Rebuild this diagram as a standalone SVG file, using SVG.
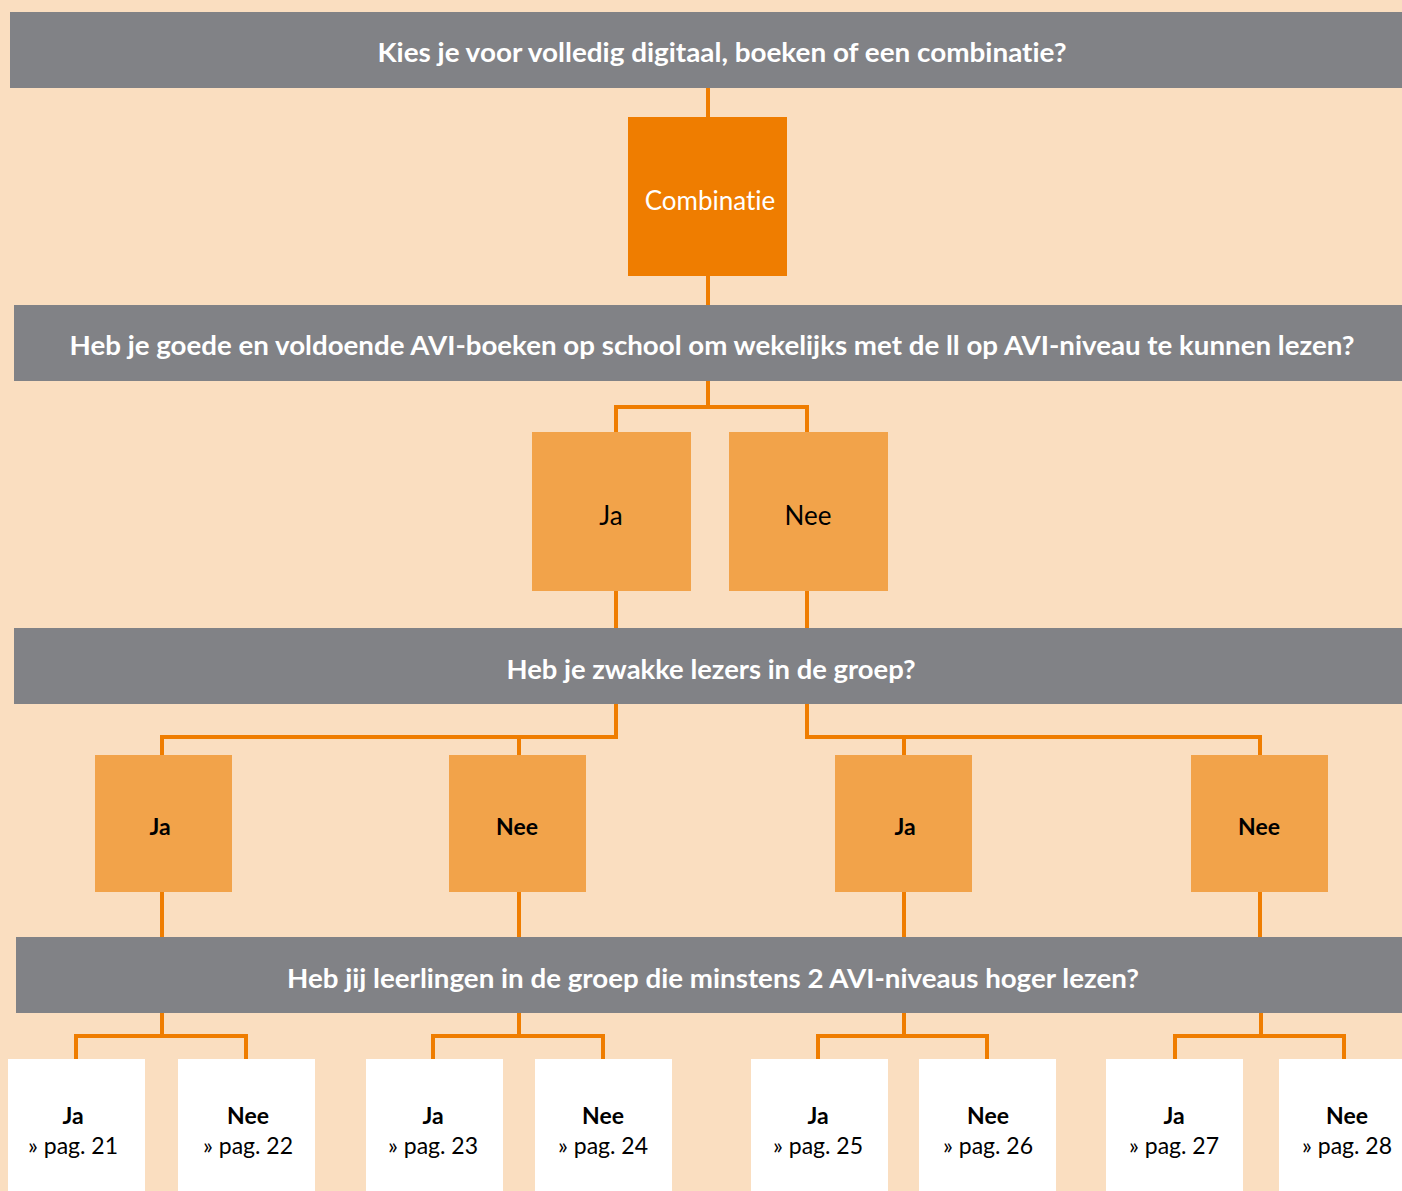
<svg xmlns="http://www.w3.org/2000/svg" width="1402" height="1191" viewBox="0 0 1402 1191">
<style>
text{font-variant-ligatures:none}
.bg{fill:#FADEC0}
.bar{fill:#818286}
.q{font-family:Lato,"Noto Sans",sans-serif;font-weight:bold;font-size:27px;fill:#ffffff;text-anchor:middle}
.c1{fill:#EF7D00}
.c2{fill:#F2A34A}
.leaf{fill:#ffffff}
.t1{font-family:Lato,"Noto Sans",sans-serif;font-size:26px;text-anchor:middle}
.t2{font-family:Lato,"Noto Sans",sans-serif;font-weight:bold;font-size:23px;text-anchor:middle;fill:#000}
.t3{font-family:Lato,"Noto Sans",sans-serif;font-size:23px;text-anchor:middle;fill:#000}
.con{fill:none;stroke:#EF7D00;stroke-width:4;stroke-linejoin:miter}
</style>
<rect class="bg" x="0" y="0" width="1402" height="1191"/>
<g id="connectors">
<path class="con" d="M708 88 V117 M708 276 V305"/>
<path class="con" d="M708 381 V407 M616 432 V407 H807 V432"/>
<path class="con" d="M616 591 V628 M807 591 V628"/>
<path class="con" d="M616 704 V737 H162 V755 M519 737 V755"/>
<path class="con" d="M807 704 V737 H1260 V755 M904 737 V755"/>
<path class="con" d="M162 892 V937 M519 892 V937 M904 892 V937 M1260 892 V937"/>
<path class="con" d="M162 1013 V1036 M76 1059 V1036 H246 V1059"/>
<path class="con" d="M519 1013 V1036 M433 1059 V1036 H603 V1059"/>
<path class="con" d="M904 1013 V1036 M818 1059 V1036 H987 V1059"/>
<path class="con" d="M1261 1013 V1036 M1175 1059 V1036 H1344 V1059"/>
</g>
<g id="q1"><rect class="bar" x="10" y="12" width="1392" height="76"/><text class="q" x="722" y="62" textLength="689" lengthAdjust="spacingAndGlyphs">Kies je voor volledig digitaal, boeken of een combinatie?</text></g>
<g id="combinatie"><rect class="c1" x="628" y="117" width="159" height="159"/><text class="t1" x="710" y="210" fill="#ffffff">Combinatie</text></g>
<g id="q2"><rect class="bar" x="14" y="305" width="1388" height="76"/><text class="q" x="712" y="355" textLength="1285" lengthAdjust="spacingAndGlyphs">Heb je goede en voldoende AVI-boeken op school om wekelijks met de ll op AVI-niveau te kunnen lezen?</text></g>
<g id="ja1"><rect class="c2" x="532" y="432" width="159" height="159"/><text class="t1" x="611" y="525" fill="#000">Ja</text></g>
<g id="nee1"><rect class="c2" x="729" y="432" width="159" height="159"/><text class="t1" x="808" y="525" fill="#000">Nee</text></g>
<g id="q3"><rect class="bar" x="14" y="628" width="1388" height="76"/><text class="q" x="711" y="679" textLength="409" lengthAdjust="spacingAndGlyphs">Heb je zwakke lezers in de groep?</text></g>
<g id="ja2a"><rect class="c2" x="95" y="755" width="137" height="137"/><text class="t2" x="160" y="835">Ja</text></g>
<g id="nee2a"><rect class="c2" x="449" y="755" width="137" height="137"/><text class="t2" x="517" y="835">Nee</text></g>
<g id="ja2b"><rect class="c2" x="835" y="755" width="137" height="137"/><text class="t2" x="905" y="835">Ja</text></g>
<g id="nee2b"><rect class="c2" x="1191" y="755" width="137" height="137"/><text class="t2" x="1259" y="835">Nee</text></g>
<g id="q4"><rect class="bar" x="16" y="937" width="1386" height="76"/><text class="q" x="713" y="988" textLength="852" lengthAdjust="spacingAndGlyphs">Heb jij leerlingen in de groep die minstens 2 AVI-niveaus hoger lezen?</text></g>
<g id="p21"><rect class="leaf" x="8" y="1059" width="137" height="132"/><text class="t2" x="73" y="1124">Ja</text><text class="t3" x="73" y="1154">» pag. 21</text></g>
<g id="p22"><rect class="leaf" x="178" y="1059" width="137" height="132"/><text class="t2" x="248" y="1124">Nee</text><text class="t3" x="248" y="1154">» pag. 22</text></g>
<g id="p23"><rect class="leaf" x="366" y="1059" width="137" height="132"/><text class="t2" x="433" y="1124">Ja</text><text class="t3" x="433" y="1154">» pag. 23</text></g>
<g id="p24"><rect class="leaf" x="535" y="1059" width="137" height="132"/><text class="t2" x="603" y="1124">Nee</text><text class="t3" x="603" y="1154">» pag. 24</text></g>
<g id="p25"><rect class="leaf" x="751" y="1059" width="137" height="132"/><text class="t2" x="818" y="1124">Ja</text><text class="t3" x="818" y="1154">» pag. 25</text></g>
<g id="p26"><rect class="leaf" x="919" y="1059" width="137" height="132"/><text class="t2" x="988" y="1124">Nee</text><text class="t3" x="988" y="1154">» pag. 26</text></g>
<g id="p27"><rect class="leaf" x="1106" y="1059" width="137" height="132"/><text class="t2" x="1174" y="1124">Ja</text><text class="t3" x="1174" y="1154">» pag. 27</text></g>
<g id="p28"><rect class="leaf" x="1279" y="1059" width="123" height="132"/><text class="t2" x="1347" y="1124">Nee</text><text class="t3" x="1347" y="1154">» pag. 28</text></g>
</svg>
